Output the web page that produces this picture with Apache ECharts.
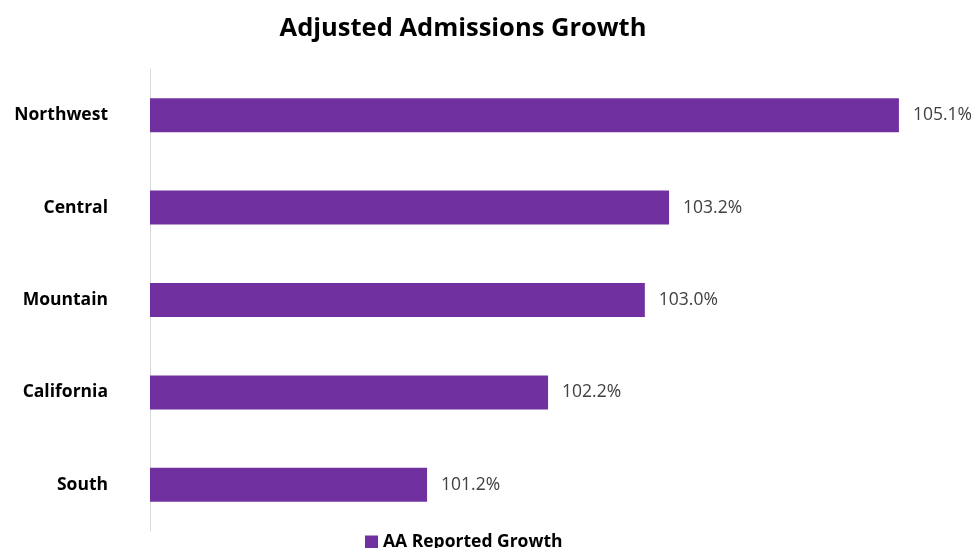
<!DOCTYPE html>
<html>
<head>
<meta charset="utf-8">
<script src="https://cdn.jsdelivr.net/npm/echarts@6/dist/echarts.min.js"></script>
<style>
html,body{margin:0;padding:0;background:#fff;}
#chart{width:977px;height:548px;}
</style>
</head>
<body>
<div id="chart"></div>
<script>
const categories = ["Northwest", "Central", "Mountain", "California", "South"];
const growthValues = [105.1, 103.2, 103.0, 102.2, 101.2];
const seriesName = "AA Reported Growth";
const titleText = "Adjusted Admissions Growth";

const chart = echarts.init(document.getElementById('chart'));
chart.setOption({
  animation: false,
  backgroundColor: '#ffffff',
  title: {
    text: titleText,
    left: 458, top: 11, textAlign: 'center',
    textStyle: { fontFamily: 'Open Sans', fontWeight: 'bold', fontSize: 25.5, color: '#000' }
  },
  legend: {
    data: [{ name: seriesName, icon: 'rect' }],
    bottom: -8, left: 360,
    itemWidth: 13, itemHeight: 13, itemGap: 4,
    textStyle: { fontFamily: 'Open Sans', fontWeight: 'bold', fontSize: 17.5, color: '#000' }
  },
  grid: { left: 150, right: 20, top: 69, bottom: 17, containLabel: false },
  xAxis: {
    type: 'value', min: 98.91, max: 105.58,
    show: false
  },
  yAxis: {
    type: 'category', data: categories, inverse: true,
    axisLine: { show: true, lineStyle: { color: '#d9d9d9', width: 1 } },
    axisTick: { show: false },
    axisLabel: { fontFamily: 'Open Sans', fontWeight: 'bold', fontSize: 17.5, color: '#000', margin: 42 }
  },
  series: [{
    name: seriesName, type: 'bar', data: growthValues,
    barWidth: 34,
    itemStyle: { color: '#7030A0' },
    label: {
      show: true, position: 'right', distance: 14,
      formatter: p => p.value.toFixed(1) + '%',
      fontFamily: 'Open Sans', fontSize: 17.5, color: '#404040'
    }
  }]
});
</script>
</body>
</html>
